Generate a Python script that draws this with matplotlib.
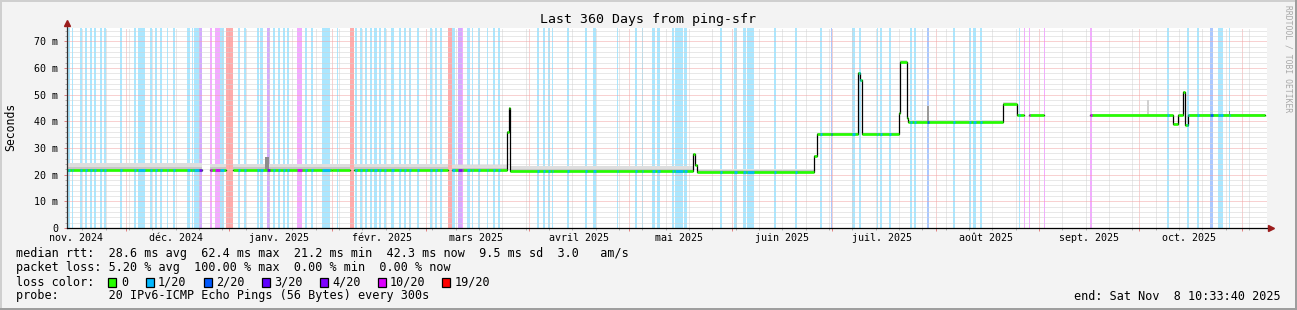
import numpy as np
import pandas as pd
import matplotlib
matplotlib.use('Agg')
import matplotlib.pyplot as plt
import matplotlib.dates as mdates
from matplotlib.ticker import MultipleLocator, FuncFormatter
from matplotlib.patches import Rectangle
from matplotlib.lines import Line2D

W, H = 1297, 310
MONO = 'DejaVu Sans Mono'

# fenetre de 360 jours
t_start = '2024-11-13 10:33:40'
t_end = '2025-11-08 10:33:40'

# rtt median (ms) par palier, nan = pas de donnees
median_times = ['2024-11-13 11:00', '2024-12-24 00:00', '2024-12-26 08:00', '2024-12-31 02:00',
                '2025-01-02 08:00', '2025-02-01 00:00', '2025-02-06 08:00', '2025-02-07 13:00',
                '2025-03-07 20:00', '2025-03-08 21:00', '2025-03-25 09:00', '2025-03-25 23:00',
                '2025-03-26 08:00', '2025-05-20 08:00', '2025-05-20 20:00', '2025-05-21 08:00',
                '2025-06-25 15:00', '2025-06-26 08:00', '2025-07-08 20:00', '2025-07-09 08:00',
                '2025-07-09 20:00', '2025-07-20 23:00', '2025-07-21 08:00', '2025-07-23 08:00',
                '2025-07-23 19:00', '2025-08-21 08:00', '2025-08-25 10:00', '2025-08-27 13:00',
                '2025-08-28 22:00', '2025-09-02 13:00', '2025-09-16 08:00', '2025-10-11 08:00',
                '2025-10-12 20:00', '2025-10-14 08:00', '2025-10-14 20:00', '2025-10-15 20:00']
median_ms = [21.9, np.nan, 21.9, np.nan,
             21.9, 21.8, np.nan, 21.8,
             np.nan, 21.7, 36.0, 45.0,
             21.5, 27.7, 23.6, 21.1,
             27.0, 35.2, 58.2, 55.4,
             35.2, 43.2, 62.4, 41.1,
             39.8, 46.4, 42.2, np.nan,
             42.2, np.nan, 42.2, 39.0,
             42.2, 51.0, 38.6, 42.3]
data_end = '2025-11-07 20:00'

# etendue de la fumee au-dessus de la mediane (ms)
smoke_outer = [2.3, 0, 2.2, 0, 2.2, 2.1, 0, 2.1, 0, 2.0, 0.5, 0.3,
               1.6, 0.5, 0.5, 1.2, 0.4, 0.6, 0.4, 0.4, 0.6, 0.4, 0.6, 0.5,
               0.8, 0.7, 0.7, 0, 0.7, 0, 0.7, 0.5, 0.5, 0.4, 0.5, 0.6]
smoke_inner = [1.0, 0, 1.0, 0, 1.0, 0.9, 0, 0.9, 0, 0.9, 0.3, 0.2,
               0.7, 0.3, 0.3, 0.5, 0.2, 0.3, 0.2, 0.2, 0.3, 0.2, 0.3, 0.3,
               0.4, 0.3, 0.3, 0, 0.3, 0, 0.3, 0.3, 0.3, 0.2, 0.3, 0.3]

# pics de fumee isoles
spike_start = ['2025-01-11 20:00', '2025-07-29 13:00', '2025-10-03 12:00', '2025-10-27 22:00']
spike_end = ['2025-01-13 03:00', '2025-07-30 00:00', '2025-10-04 00:00', '2025-10-28 06:00']
spike_top = [26.5, 45.7, 47.9, 44.0]
spike_shade = ['#8c8c8c', '#9a9a9a', '#d0d0d0', '#7a7a7a']

# pertes de paquets : debut, fin, niveau (index dans loss_labels)
loss_start = ['2024-11-13 20:00', '2024-11-14 21:00', '2024-11-17 08:00', '2024-11-18 20:00',
              '2024-11-20 08:00', '2024-11-21 15:00', '2024-11-23 08:00', '2024-11-24 13:00',
              '2024-11-29 08:00', '2024-12-03 13:00', '2024-12-04 20:00', '2024-12-08 08:00',
              '2024-12-09 20:00', '2024-12-11 08:00', '2024-12-13 09:00', '2024-12-15 08:00',
              '2024-12-19 09:00', '2024-12-20 21:00', '2024-12-21 13:00', '2024-12-23 03:00',
              '2024-12-26 08:00', '2024-12-27 20:00', '2024-12-29 08:00', '2024-12-31 01:00',
              '2025-01-03 20:00', '2025-01-05 13:00', '2025-01-09 08:00', '2025-01-10 08:00',
              '2025-01-12 08:00', '2025-01-14 08:00', '2025-01-15 20:00', '2025-01-17 08:00',
              '2025-01-18 12:00', '2025-01-21 08:00', '2025-01-23 20:00', '2025-01-25 15:00',
              '2025-01-29 01:00', '2025-02-02 08:00', '2025-02-06 08:00', '2025-02-07 20:00',
              '2025-02-09 08:00', '2025-02-10 20:00', '2025-02-12 08:00', '2025-02-13 13:00',
              '2025-02-14 23:00', '2025-02-16 16:00', '2025-02-18 16:00', '2025-02-21 03:00',
              '2025-02-22 15:00', '2025-02-24 03:00', '2025-02-26 08:00', '2025-03-02 08:00',
              '2025-03-03 20:00', '2025-03-05 08:00', '2025-03-07 20:00', '2025-03-08 21:00',
              '2025-03-10 20:00', '2025-03-11 21:00', '2025-03-13 09:00', '2025-03-14 21:00',
              '2025-03-16 20:00', '2025-03-19 09:00', '2025-03-21 08:00', '2025-03-22 20:00',
              '2025-04-03 08:00', '2025-04-05 08:00', '2025-04-06 20:00', '2025-04-07 20:00',
              '2025-04-12 08:00', '2025-04-17 20:00', '2025-04-20 08:00', '2025-04-27 08:00',
              '2025-05-02 20:00', '2025-05-04 20:00', '2025-05-07 20:00', '2025-05-09 08:00',
              '2025-05-13 20:00', '2025-05-14 20:00', '2025-05-17 13:00', '2025-05-28 08:00',
              '2025-06-01 13:00', '2025-06-04 08:00', '2025-06-05 13:00', '2025-06-13 13:00',
              '2025-06-19 20:00', '2025-06-27 08:00', '2025-06-30 13:00', '2025-07-06 20:00',
              '2025-07-09 03:00', '2025-07-14 08:00', '2025-07-15 08:00', '2025-07-18 03:00',
              '2025-07-24 08:00', '2025-07-25 13:00', '2025-07-29 08:00', '2025-08-06 08:00',
              '2025-08-11 03:00', '2025-08-12 08:00', '2025-08-14 08:00', '2025-08-25 23:00',
              '2025-08-27 13:00', '2025-08-29 01:00', '2025-09-02 13:00', '2025-09-16 08:00',
              '2025-10-09 08:00', '2025-10-15 08:00', '2025-10-18 08:00', '2025-10-22 06:00',
              '2025-10-24 15:00', '2025-10-25 10:00', '2025-10-27 23:00']
loss_end = ['2024-11-14 08:00', '2024-11-15 08:00', '2024-11-17 21:00', '2024-11-19 13:00',
            '2024-11-20 21:00', '2024-11-22 04:00', '2024-11-23 21:00', '2024-11-25 04:00',
            '2024-11-29 23:00', '2024-12-04 01:00', '2024-12-06 20:00', '2024-12-08 21:00',
            '2024-12-10 09:00', '2024-12-11 21:00', '2024-12-13 20:00', '2024-12-15 20:00',
            '2024-12-20 08:00', '2024-12-21 08:00', '2024-12-23 03:00', '2024-12-23 23:00',
            '2024-12-27 01:00', '2024-12-29 08:00', '2024-12-30 13:00', '2025-01-02 07:00',
            '2025-01-04 08:00', '2025-01-06 03:00', '2025-01-10 03:00', '2025-01-11 08:00',
            '2025-01-13 08:00', '2025-01-14 22:00', '2025-01-16 08:00', '2025-01-17 22:00',
            '2025-01-19 03:00', '2025-01-22 20:00', '2025-01-24 08:00', '2025-01-26 03:00',
            '2025-01-31 08:00', '2025-02-02 20:00', '2025-02-07 13:00', '2025-02-08 08:00',
            '2025-02-09 21:00', '2025-02-11 09:00', '2025-02-12 21:00', '2025-02-14 08:00',
            '2025-02-15 16:00', '2025-02-17 04:00', '2025-02-19 15:00', '2025-02-21 16:00',
            '2025-02-23 04:00', '2025-02-24 16:00', '2025-02-26 22:00', '2025-03-02 21:00',
            '2025-03-04 09:00', '2025-03-05 21:00', '2025-03-08 21:00', '2025-03-09 20:00',
            '2025-03-11 21:00', '2025-03-12 08:00', '2025-03-14 08:00', '2025-03-15 08:00',
            '2025-03-17 08:00', '2025-03-19 20:00', '2025-03-21 20:00', '2025-03-23 08:00',
            '2025-04-04 01:00', '2025-04-05 20:00', '2025-04-07 08:00', '2025-04-08 08:00',
            '2025-04-12 23:00', '2025-04-18 08:00', '2025-04-21 01:00', '2025-04-27 20:00',
            '2025-05-03 08:00', '2025-05-05 08:00', '2025-05-08 20:00', '2025-05-10 08:00',
            '2025-05-14 13:00', '2025-05-17 03:00', '2025-05-18 08:00', '2025-05-28 22:00',
            '2025-06-02 08:00', '2025-06-05 03:00', '2025-06-07 13:00', '2025-06-14 03:00',
            '2025-06-20 08:00', '2025-06-28 01:00', '2025-06-30 20:00', '2025-07-07 20:00',
            '2025-07-09 15:00', '2025-07-14 20:00', '2025-07-15 22:00', '2025-07-18 17:00',
            '2025-07-24 22:00', '2025-07-26 03:00', '2025-07-30 03:00', '2025-08-06 22:00',
            '2025-08-11 18:00', '2025-08-13 00:00', '2025-08-14 23:00', '2025-08-26 10:00',
            '2025-08-27 23:00', '2025-08-29 10:00', '2025-09-02 22:00', '2025-09-16 22:00',
            '2025-10-10 01:00', '2025-10-16 01:00', '2025-10-19 01:00', '2025-10-23 05:00',
            '2025-10-25 06:00', '2025-10-26 03:00', '2025-10-28 10:00']
loss_level = [1, 1, 1, 1, 1, 1, 1, 1,
              1, 1, 1, 1, 1, 1, 1, 1,
              1, 1, 1, 4, 5, 5, 1, 6,
              1, 1, 1, 1, 4, 1, 1, 1,
              1, 5, 1, 1, 1, 1, 6, 1,
              1, 1, 1, 1, 1, 1, 1, 1,
              1, 1, 1, 1, 1, 1, 6, 1,
              4, 5, 1, 1, 1, 1, 1, 1,
              1, 1, 1, 1, 1, 1, 1, 1,
              1, 1, 1, 1, 1, 1, 1, 1,
              1, 1, 1, 1, 1, 1, 2, 1,
              1, 1, 1, 1, 1, 1, 2, 1,
              1, 1, 1, 1, 5, 5, 5, 5,
              1, 1, 1, 2, 1, 1, 1]

loss_labels = ['0', '1/20', '2/20', '3/20', '4/20', '10/20', '19/20']
loss_colors = ['#26ff00', '#00b8ff', '#0059ff', '#5e00ff', '#7e00ff', '#dd00ff', '#ff0000']

month_labels = ['nov. 2024', 'déc. 2024', 'janv. 2025', 'févr. 2025', 'mars 2025', 'avril 2025',
                'mai 2025', 'juin 2025', 'juil. 2025', 'août 2025', 'sept. 2025', 'oct. 2025']

legend_rtt = 'median rtt:  28.6 ms avg  62.4 ms max  21.2 ms min  42.3 ms now  9.5 ms sd  3.0   am/s'
legend_loss = 'packet loss: 5.20 % avg  100.00 % max  0.00 % min  0.00 % now'
legend_probe = 'probe:       20 IPv6-ICMP Echo Pings (56 Bytes) every 300s'
legend_end = 'end: Sat Nov  8 10:33:40 2025'


def num(dates):
    return mdates.date2num(pd.to_datetime(dates))


def fx(px):
    return px / W


def fy(py):
    return 1 - py / H


fig = plt.figure(figsize=(W / 100, H / 100), dpi=100, facecolor='#f3f3f3')
ax = fig.add_axes([fx(67), fy(228), 1200 / W, 200 / H], facecolor='white')

x0, x1 = num([t_start, t_end])
ax.set_xlim(x0, x1)
ax.set_ylim(0, 75)

# barres de pertes
for a, b, lvl in zip(num(loss_start), num(loss_end), loss_level):
    ax.axvspan(a, b, color=loss_colors[lvl], alpha=0.33, lw=0, zorder=0.2)

# grille facon rrdtool
ax.set_axisbelow(True)
ax.xaxis.set_major_locator(mdates.MonthLocator())
ax.xaxis.set_minor_locator(mdates.WeekdayLocator(byweekday=mdates.MO))
ax.yaxis.set_major_locator(MultipleLocator(10))
ax.yaxis.set_minor_locator(MultipleLocator(2))
ax.grid(which='minor', color='#d2d2d2', lw=0.72, linestyle=(0, (1, 1)))
ax.grid(which='major', color='#f3a4a4', lw=0.72, linestyle=(0, (1, 1)))
ax.tick_params(axis='x', which='both', labelbottom=False)
ax.tick_params(which='major', direction='out', length=2.5, width=0.7, color='#e08080')
ax.tick_params(which='minor', direction='out', length=1.5, width=0.7, color='#b0b0b0')
ax.tick_params(axis='y', which='major', pad=4, labelsize=7.2, labelfontfamily=MONO, labelcolor='black')
ax.yaxis.set_major_formatter(FuncFormatter(lambda v, p: '0' if v == 0 else '%d m' % v))
for s in ax.spines.values():
    s.set_visible(False)

# fumee + mediane, en paliers
t = num(median_times + [data_end])
v = np.array(median_ms)
xs = np.repeat(t, 2)[1:-1]
ys = np.repeat(v, 2)
outer = np.repeat(smoke_outer, 2)
inner = np.repeat(smoke_inner, 2)
ax.fill_between(xs, ys - 0.3, ys + outer, color='#dedede', lw=0, zorder=2)
ax.fill_between(xs, ys - 0.2, ys + inner, color='#c6c6c6', lw=0, zorder=2.1)
for a, b, top, c in zip(num(spike_start), num(spike_end), spike_top, spike_shade):
    i = np.searchsorted(t, a, side='right') - 1
    ax.fill_between([a, b], [v[i], v[i]], [top, top], color=c, lw=0, zorder=2.2)

ax.plot(t, np.append(v, v[-1]), drawstyle='steps-post', color='black', lw=0.9, zorder=3)
ax.hlines(v, t[:-1], t[1:], colors=loss_colors[0], lw=1.9, zorder=4)
for a, b, lvl in zip(num(loss_start), num(loss_end), loss_level):
    for i in range(len(v)):
        s, e = max(a, t[i]), min(b, t[i + 1])
        if s < e and not np.isnan(v[i]):
            ax.hlines(v[i], s, e, colors=loss_colors[lvl], lw=1.9, zorder=4.5)

# etiquettes des mois (au milieu du mois)
month_pos = pd.date_range('2024-11-01', periods=len(month_labels), freq='MS') + pd.Timedelta(days=15)
for d, lab in zip(num(month_pos), month_labels):
    ax.text(d, -0.05, lab, transform=ax.get_xaxis_transform(), ha='center', va='center',
            fontsize=7.2, family=MONO)

# axes avec fleches
ax.plot([0, 0], [0, 1.02], transform=ax.transAxes, color='#303030', lw=0.9, clip_on=False, zorder=6)
ax.plot([0, 1.002], [0, 0], transform=ax.transAxes, color='black', lw=0.9, clip_on=False, zorder=6)
ax.plot([0], [1.027], marker='^', ms=4, color='#9b1c1c', transform=ax.transAxes, clip_on=False, zorder=7)
ax.plot([1.0035], [0], marker='>', ms=4, color='#9b1c1c', transform=ax.transAxes, clip_on=False, zorder=7)

# titres
fig.text(fx(648), fy(19), 'Last 360 Days from ping-sfr', ha='center', va='center', fontsize=9.5, family=MONO)
fig.text(fx(11), fy(127), 'Seconds', rotation=90, ha='center', va='center', fontsize=8.3, family=MONO)
fig.text(fx(1288), fy(59), 'RRDTOOL / TOBI OETIKER', rotation=-90, ha='center', va='center',
         fontsize=5.8, family=MONO, color='#a8a8a8')

# legende
for y, s in [(254, legend_rtt), (268, legend_loss), (296, legend_probe)]:
    fig.text(fx(16), fy(y), s, ha='left', va='center', fontsize=8.5, family=MONO)
fig.text(fx(16), fy(282), 'loss color:', ha='left', va='center', fontsize=8.5, family=MONO)
sq_x = [108, 146, 204, 262, 320, 378, 442]
lab_x = [121, 158, 216, 274, 332, 390, 455]
for sx, lx, lab, c in zip(sq_x, lab_x, loss_labels, loss_colors):
    fig.add_artist(Rectangle((fx(sx), fy(286.5)), 7.5 / W, 9 / H, transform=fig.transFigure,
                             facecolor=c, edgecolor='black', lw=0.9))
    fig.text(fx(lx), fy(282), lab, ha='left', va='center', fontsize=8.5, family=MONO)
fig.text(fx(1280.5), fy(296), legend_end, ha='right', va='center', fontsize=8.5, family=MONO)

# cadre 3D
fig.add_artist(Line2D([0, 1], [fy(1), fy(1)], transform=fig.transFigure, color='#cfcfcf', lw=1.44))
fig.add_artist(Line2D([fx(1), fx(1)], [0, 1], transform=fig.transFigure, color='#cfcfcf', lw=1.44))
fig.add_artist(Line2D([0, 1], [fy(H - 1), fy(H - 1)], transform=fig.transFigure, color='#9e9e9e', lw=1.44))
fig.add_artist(Line2D([fx(W - 1), fx(W - 1)], [0, 1], transform=fig.transFigure, color='#9e9e9e', lw=1.44))

fig.savefig('out.png', dpi=100, facecolor=fig.get_facecolor())
